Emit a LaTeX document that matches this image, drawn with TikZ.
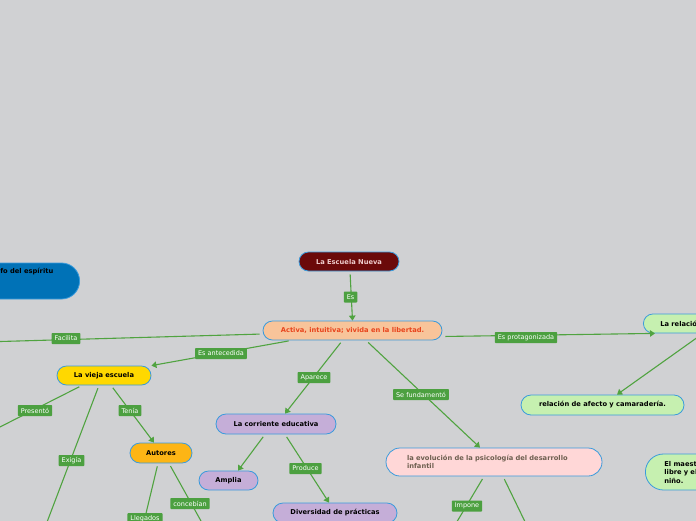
\documentclass[tikz,border=0pt]{standalone}
\usepackage{fontspec}
\newfontfamily\dvs{DejaVu Sans}
\usetikzlibrary{arrows.meta,calc}
\definecolor{bgc}{RGB}{208,209,211}
\definecolor{linegreen}{RGB}{80,163,64}
\definecolor{labgreen}{RGB}{76,160,64}
\definecolor{nodeblue}{RGB}{58,155,220}
\definecolor{maroon}{RGB}{107,10,10}
\definecolor{pinktxt}{RGB}{238,205,205}
\definecolor{peach}{RGB}{248,196,154}
\definecolor{redtxt}{RGB}{232,68,28}
\definecolor{yel}{RGB}{255,216,0}
\definecolor{orng}{RGB}{253,181,21}
\definecolor{lav}{RGB}{197,174,216}
\definecolor{lpink}{RGB}{255,215,215}
\definecolor{browntxt}{RGB}{110,95,80}
\definecolor{lgreen}{RGB}{198,240,176}
\definecolor{deepblue}{RGB}{0,114,183}
\tikzset{
  tnode/.style={draw=nodeblue, line width=0.8pt, rounded corners=9.5pt, minimum height=19pt,
    inner sep=2pt, font=\dvs\bfseries\fontsize{6.7}{8.5}\selectfont, text=black},
  tallnode/.style={tnode, rounded corners=14pt, minimum height=28pt},
  bignode/.style={tnode, rounded corners=18pt, minimum height=36pt},
  lab/.style={fill=labgreen, text=white, font=\dvs\fontsize{6.5}{7.5}\selectfont,
    inner xsep=3pt, inner ysep=0pt, minimum height=11pt, rounded corners=0.8pt},
  conn/.style={draw=linegreen, line width=1.1pt, shorten <=3pt},
  arr/.style={-{Triangle[length=5pt,width=6.5pt]}}
}
\begin{document}
\begin{tikzpicture}[x=1pt,y=-1pt]
\useasboundingbox (0,0) rectangle (696,520);
\clip (0,0) rectangle (696,520);
\fill[bgc] (-10,-10) rectangle (706,530);

% nodes
\node[tnode, fill=maroon, text=pinktxt, minimum width=100pt] (nueva) at (349,261.5) {La Escuela Nueva};
\node[tnode, fill=peach, text=redtxt, minimum width=179pt] (activa) at (352.5,330.5) {Activa, intuitiva; vivida en la libertad.};
\node[tnode, fill=yel, minimum width=94pt] (vieja) at (104,375.5) {La vieja escuela};
\node[tnode, fill=orng, minimum width=62pt, minimum height=20pt, rounded corners=10pt] (autores) at (161,453) {Autores};
\node[tnode, fill=lav, minimum width=120pt, minimum height=20pt, rounded corners=10pt] (corriente) at (276,424) {La corriente educativa};
\node[tnode, fill=lav, minimum width=59pt] (amplia) at (228.5,480.5) {Amplia};
\node[tnode, fill=lav, minimum width=124pt, minimum height=20pt, rounded corners=10pt] (diversidad) at (335,513) {Diversidad de prácticas};
\node[tallnode, fill=lpink, text=browntxt, minimum width=216pt, inner xsep=21pt, text width=174pt, align=left] (evol) at (494,462)
  {la evolución de la psicología del desarrollo\\infantil};
\node[tnode, fill=lgreen, anchor=west, inner xsep=17pt, text width=80pt, align=left] (rel) at (643,323.5) {La relación};
\node[tnode, fill=lgreen, minimum width=163pt, minimum height=20pt, rounded corners=10pt] (afecto) at (602.5,405) {relación de afecto y camaradería.};
\node[bignode, fill=lgreen, anchor=west, inner xsep=19pt, text width=80pt, align=left] (maestro) at (645,472)
  {El maestro\\libre y el\\niño.};
\node[bignode, fill=deepblue, anchor=east, minimum width=160pt] (azul) at (80,281) {};
\node[font=\dvs\bfseries\fontsize{6.7}{8.5}\selectfont, text=black, anchor=east, inner sep=0pt] (azultxt) at (53.5,272) {Triunfo del espíritu};

% free ends
\coordinate (fL) at (-10,341.8);
\coordinate (pL) at (-10,432);
\coordinate (eB) at (44,530);
\coordinate (lB) at (142,530);
\coordinate (cB) at (206,530);
\coordinate (iB) at (452,530);
\coordinate (rB) at (529,530);

% connectors
\draw[conn, arr] ($(nueva.south)+(1,0)$) -- (activa.north);
\draw[conn] ($(activa.west)+(0,3.5)$) -- (fL);
\draw[conn, arr] ($(activa.south west)+(29,0)$) -- (vieja.north east);
\draw[conn, arr] ($(activa.east)+(0,6)$) -- ($(rel.south west)+(12,0)$);
\draw[conn, arr] ($(rel.south west)+(60,0)$) -- ($(afecto.north)+(14.5,0)$);
\draw[conn, arr] ($(activa.south)+(-10,0)$) -- ($(corriente.north)+(9,0)$);
\draw[conn, arr] ($(activa.south)+(13.5,0)$) -- ($(evol.north)+(-14,0)$);
\draw[conn] ($(vieja.south)+(-22,0)$) -- (pL);
\draw[conn, arr] ($(vieja.south)+(7,0)$) -- ($(autores.north)+(-7,0)$);
\draw[conn] ($(vieja.south)+(-5,0)$) -- (eB);
\draw[conn] ($(autores.south)+(-3,0)$) -- (lB);
\draw[conn] ($(autores.south)+(8,0)$) -- (cB);
\draw[conn, arr] ($(corriente.south)+(-11,0)$) -- ($(amplia.north)+(9.5,0)$);
\draw[conn, arr] ($(corriente.south)+(9,0)$) -- ($(diversidad.north)+(-6,0)$);
\draw[conn] ($(evol.south)+(-10,0)$) -- (iB);
\draw[conn] ($(evol.south)+(9,0)$) -- (rB);

% labels
\node[lab] (es) at (350.5,297) {Es};
\node[lab] (facilita) at (66,338.5) {Facilita};
\node[lab] (antecedida) at (221,353.5) {Es antecedida};
\node[lab] (protag) at (526,337.5) {Es protagonizada};
\node[lab] (aparece) at (314,377.5) {Aparece};
\node[lab] (sefund) at (421,394.5) {Se fundamentó};
\node[lab] (presento) at (35,410.5) {Presentó};
\node[lab] (tenia) at (130,410.5) {Tenía};
\node[lab] (exigia) at (71.5,460.5) {Exigía};
\node[lab] (produce) at (305.5,468.5) {Produce};
\node[lab] (concebian) at (190,503.5) {concebían};
\node[lab] (llegados) at (145,518.5) {Llegados};
\node[lab] (impone) at (467,506) {Impone};
\end{tikzpicture}
\end{document}
